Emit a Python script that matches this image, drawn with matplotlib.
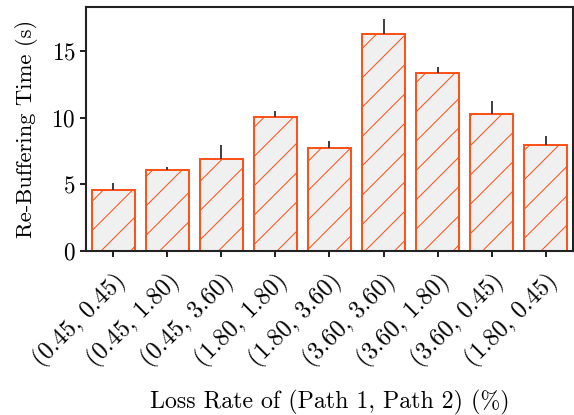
import matplotlib
matplotlib.use("Agg")
from matplotlib import pyplot as plt
import numpy as np

plt.rcParams['font.family'] = 'serif'
plt.rcParams['font.serif'] = ['cmr10', 'DejaVu Serif']
plt.rcParams['mathtext.fontset'] = 'cm'
plt.rcParams['axes.formatter.use_mathtext'] = True
plt.rcParams['hatch.color'] = '#ff4f14'
plt.rcParams['hatch.linewidth'] = 0.8

# (path 1 loss, path 2 loss) -> re-buffering time
labels = ['(0.45, 0.45)', '(0.45, 1.80)', '(0.45, 3.60)', '(1.80, 1.80)', '(1.80, 3.60)',
          '(3.60, 3.60)', '(3.60, 1.80)', '(3.60, 0.45)', '(1.80, 0.45)']
rebuf = [4.58, 6.05, 6.93, 10.05, 7.73, 16.3, 13.38, 10.28, 7.97]
err_up = [0.5, 0.23, 1.0, 0.45, 0.55, 1.1, 0.45, 0.95, 0.65]

dpi = 88
fig = plt.figure(figsize=(574 / dpi, 415 / dpi), dpi=dpi)
ax = fig.add_axes([0.150, 0.395, 0.848, 0.588])

x = np.arange(len(labels))
ax.bar(x, rebuf, width=0.8, color='#f0f0f0', edgecolor='#ff4f14', linewidth=1.6,
       hatch='/', yerr=[np.zeros(len(err_up)), err_up],
       error_kw=dict(ecolor='#333333', elinewidth=1.5, capsize=0))

ax.set_xlim(-0.5, 8.5)
ax.set_ylim(0, 18.3)
ax.set_yticks([0, 5, 10, 15])
ax.set_xticks(x)
ax.set_xticklabels(labels, rotation=45, ha='right', rotation_mode='anchor', fontsize=20)
ax.tick_params(axis='y', labelsize=19, width=1.4, length=5)
ax.tick_params(axis='x', pad=10, width=1.4, length=5)
ax.set_ylabel('Re-Buffering Time (s)', fontsize=18.5, labelpad=11)
ax.set_xlabel('Loss Rate of (Path 1, Path 2) (%)', fontsize=19.5, labelpad=14)
for s in ax.spines.values():
    s.set_linewidth(1.7)
    s.set_color('#222222')

fig.savefig('out.png', dpi=dpi)
